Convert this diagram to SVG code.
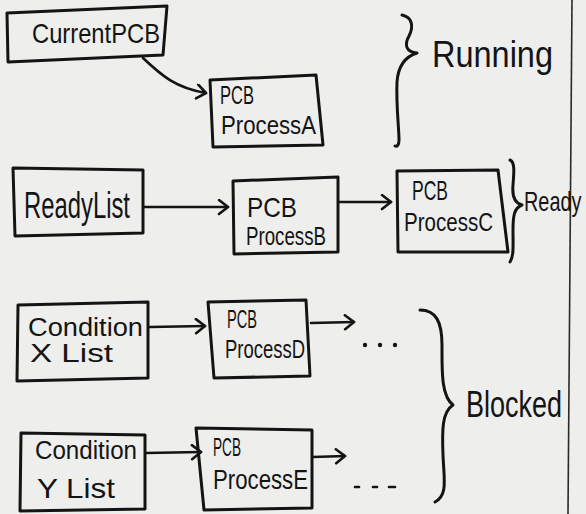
<svg xmlns="http://www.w3.org/2000/svg" width="586" height="514" viewBox="0 0 586 514">
  <style>
    .paper { fill: #eeeeec; }
    .box { fill: none; stroke: #141414; stroke-width: 3; stroke-linejoin: round; stroke-linecap: round; }
    .wire { fill: none; stroke: #141414; stroke-width: 2.6; stroke-linecap: round; }
    .brace { fill: none; stroke: #141414; stroke-width: 3; stroke-linecap: round; stroke-linejoin: round; }
    .rule { stroke: #2a2a2a; stroke-width: 1.6; }
    text { font-family: "Liberation Sans", "DejaVu Sans", sans-serif; fill: #141414; }
    .t { font-size: 28px; }
    .s { font-size: 25px; }
    .lab { font-size: 36px; }
  </style>
  <defs>
    <marker id="head" markerUnits="userSpaceOnUse" markerWidth="14" markerHeight="18" refX="11" refY="8" orient="auto">
      <path d="M2,1 L11,8 L2,15" fill="none" stroke="#141414" stroke-width="2.6" stroke-linecap="round" stroke-linejoin="round"/>
    </marker>
  </defs>

  <rect class="paper" x="0" y="0" width="586" height="514"/>
  <!-- page margin rule on the right -->
  <line class="rule" x1="572" y1="0" x2="568" y2="514"/>

  <!-- Running row -->
  <g id="n-current">
    <path class="box" d="M7,13 L167,6 L163,55 L8,62 Z"/>
    <text class="t" x="32" y="43" textLength="128" lengthAdjust="spacingAndGlyphs">CurrentPCB</text>
  </g>
  <g id="n-procA">
    <path class="box" d="M210,80 L316,75 L323,145 L213,147 Z"/>
    <text class="s" x="220" y="104" textLength="34" lengthAdjust="spacingAndGlyphs">PCB</text>
    <text class="s" x="221" y="134" textLength="95" lengthAdjust="spacingAndGlyphs">ProcessA</text>
  </g>

  <!-- Ready row -->
  <g id="n-readylist">
    <path class="box" d="M13,168 L143,170 L143,233 L15,236 Z"/>
    <text class="lab" x="24" y="218" textLength="106" lengthAdjust="spacingAndGlyphs">ReadyList</text>
  </g>
  <g id="n-procB">
    <path class="box" d="M233,181 L338,177 L338,252 L234,254 Z"/>
    <text class="t" x="247" y="217" textLength="50" lengthAdjust="spacingAndGlyphs">PCB</text>
    <text class="s" x="246" y="245" textLength="80" lengthAdjust="spacingAndGlyphs">ProcessB</text>
  </g>
  <g id="n-procC">
    <path class="box" d="M397,171 L498,170 L508,252 L398,252 Z"/>
    <text class="t" x="412" y="200" textLength="36" lengthAdjust="spacingAndGlyphs">PCB</text>
    <text class="s" x="404" y="231" textLength="89" lengthAdjust="spacingAndGlyphs">ProcessC</text>
  </g>

  <!-- Blocked rows -->
  <g id="n-condX">
    <path class="box" d="M18,305 L148,302 L148,378 L17,381 Z"/>
    <text class="s" x="28" y="336" textLength="115" lengthAdjust="spacingAndGlyphs">Condition</text>
    <text class="s" x="30" y="362" textLength="83" lengthAdjust="spacingAndGlyphs">X List</text>
  </g>
  <g id="n-procD">
    <path class="box" d="M208,302 L306,300 L310,376 L214,378 Z"/>
    <text class="s" x="227" y="328" textLength="30" lengthAdjust="spacingAndGlyphs">PCB</text>
    <text class="s" x="225" y="358" textLength="80" lengthAdjust="spacingAndGlyphs">ProcessD</text>
  </g>
  <g id="n-condY">
    <path class="box" d="M21,433 L145,435 L145,509 L20,511 Z"/>
    <text class="s" x="35" y="459" textLength="102" lengthAdjust="spacingAndGlyphs">Condition</text>
    <text class="t" x="37" y="498" textLength="78" lengthAdjust="spacingAndGlyphs">Y List</text>
  </g>
  <g id="n-procE">
    <path class="box" d="M196,428 L312,430 L312,508 L204,510 Z"/>
    <text class="s" x="213" y="456" textLength="28" lengthAdjust="spacingAndGlyphs">PCB</text>
    <text class="t" x="213" y="489" textLength="95" lengthAdjust="spacingAndGlyphs">ProcessE</text>
  </g>

  <!-- pointers between list heads and PCBs -->
  <g id="connectors">
    <path class="wire" marker-end="url(#head)" d="M143,58 C162,76 176,88 206,93"/>
    <path class="wire" marker-end="url(#head)" d="M144,207 L228,207"/>
    <path class="wire" marker-end="url(#head)" d="M339,202 L391,202"/>
    <path class="wire" marker-end="url(#head)" d="M150,327 L205,326"/>
    <path class="wire" marker-end="url(#head)" d="M311,323 L354,322"/>
    <path class="wire" marker-end="url(#head)" d="M146,453 L201,452"/>
    <path class="wire" marker-end="url(#head)" d="M313,457 L345,456"/>
  </g>

  <!-- continuation marks -->
  <g id="more-D">
    <circle cx="365" cy="345" r="2.2" fill="#141414"/>
    <circle cx="380" cy="345" r="2.2" fill="#141414"/>
    <circle cx="395" cy="345" r="2.2" fill="#141414"/>
  </g>
  <g id="more-E" class="wire">
    <line x1="355" y1="487" x2="359" y2="487"/>
    <line x1="373" y1="487" x2="377" y2="487"/>
    <line x1="389" y1="487" x2="395" y2="487"/>
  </g>

  <!-- state braces and labels -->
  <g id="state-running">
    <path class="brace" d="M402,15 C412,17 414,26 409,36 C404,45 406,52 417,53 C404,57 398,68 397,82 C396,105 399,128 399,140 C399,145 397,147 395,146"/>
    <text class="lab" x="432" y="67" textLength="121" lengthAdjust="spacingAndGlyphs">Running</text>
  </g>
  <g id="state-ready">
    <path class="brace" d="M510,160 C515,162 514,172 513,185 C512,196 514,203 522,205 C514,208 513,216 513,230 C513,245 514,256 510,262"/>
    <text class="t" transform="translate(524,211) scale(0.71,1)">Ready</text>
  </g>
  <g id="state-blocked">
    <path class="brace" d="M420,310 C436,310 442,322 442,345 C442,370 441,396 453,405 C442,412 442,430 443,455 C444,480 448,495 435,502"/>
    <text class="lab" transform="translate(466,417) scale(0.75,1)">Blocked</text>
  </g>
</svg>
